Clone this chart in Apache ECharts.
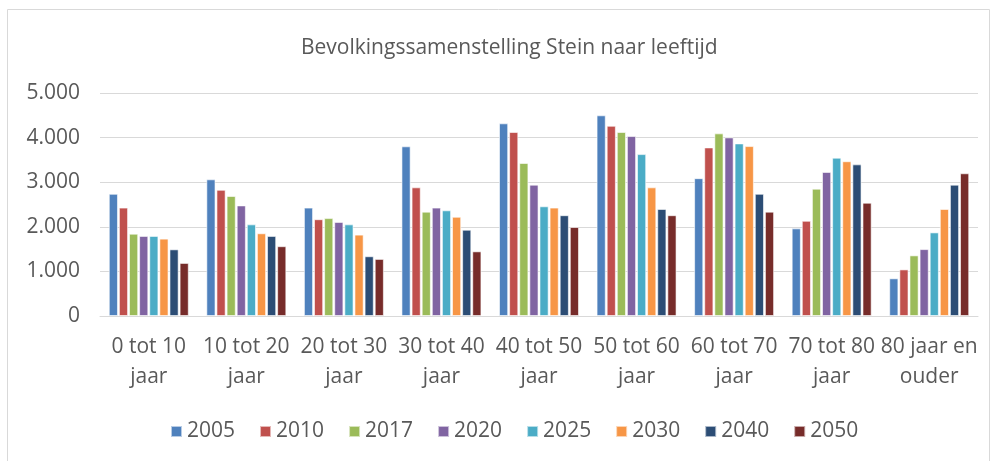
<!DOCTYPE html>
<html><head><meta charset="utf-8">
<script src="https://cdn.jsdelivr.net/npm/echarts@6/dist/echarts.min.js"></script>
<style>html,body{margin:0;padding:0;background:#fff}#c{width:995px;height:461px}</style>
</head><body><div id="c"></div>
<script>
const categories = ['0 tot 10\njaar','10 tot 20\njaar','20 tot 30\njaar','30 tot 40\njaar','40 tot 50\njaar','50 tot 60\njaar','60 tot 70\njaar','70 tot 80\njaar','80 jaar en\nouder'];
const years = ['2005','2010','2017','2020','2025','2030','2040','2050'];
const v2005 = [2740, 3065, 2430, 3805, 4320, 4500, 3090, 1965, 845];
const v2010 = [2430, 2830, 2170, 2885, 4125, 4265, 3780, 2135, 1045];
const v2017 = [1845, 2690, 2195, 2340, 3430, 4125, 4095, 2855, 1360];
const v2020 = [1795, 2480, 2110, 2430, 2945, 4035, 4005, 3230, 1500];
const v2025 = [1795, 2055, 2055, 2370, 2460, 3630, 3870, 3550, 1875];
const v2030 = [1735, 1855, 1825, 2225, 2430, 2885, 3810, 3470, 2400];
const v2040 = [1495, 1795, 1340, 1935, 2260, 2400, 2740, 3400, 2945];
const v2050 = [1190, 1565, 1280, 1450, 1995, 2260, 2340, 2540, 3200];
const seriesValues = [v2005, v2010, v2017, v2020, v2025, v2030, v2040, v2050];
const colors = ['#4F81BD','#C0504D','#9BBB59','#8064A2','#4BACC6','#F79646','#2C4D75','#772C2A'];
const font = '"Open Sans", "Noto Sans", sans-serif';

const chart = echarts.init(document.getElementById('c'));
chart.setOption({
  animation: false,
  color: colors,
  textStyle: {fontFamily: font},
  title: {
    text: 'Bevolkingssamenstelling Stein naar leeftijd',
    left: 296, top: 33,
    textStyle: {fontFamily: font, fontSize: 21, fontWeight: 'normal', color: '#595959'}
  },
  graphic: [{
    type: 'rect', silent: true,
    shape: {x: 7.5, y: 9.5, width: 982, height: 470},
    style: {fill: 'none', stroke: '#d9d9d9', lineWidth: 1}
  }],
  legend: {
    data: years, bottom: 14, left: 165,
    itemWidth: 11, itemHeight: 11, itemGap: 24,
    icon: 'rect',
    textStyle: {fontFamily: font, fontSize: 21, color: '#595959'}
  },
  grid: {left: 100, right: 17, top: 93, bottom: 145, containLabel: false},
  xAxis: {
    type: 'category', data: categories,
    axisLine: {lineStyle: {color: '#d9d9d9'}},
    axisTick: {show: false},
    axisLabel: {fontFamily: font, fontSize: 21, color: '#595959', lineHeight: 30, margin: 16, interval: 0}
  },
  yAxis: {
    type: 'value', min: 0, max: 5000, interval: 1000,
    axisLabel: {fontFamily: font, fontSize: 21, color: '#595959', margin: 20,
      formatter: v => v === 0 ? '0' : (v/1000) + '.000'},
    splitLine: {lineStyle: {color: '#d9d9d9', width: 1}},
    axisLine: {show: false}, axisTick: {show: false}
  },
  series: years.map((y, i) => ({
    name: y, type: 'bar', data: seriesValues[i],
    barGap: '10%', barCategoryGap: '18%',
    itemStyle: {borderColor: 'rgba(255,255,255,0.6)', borderWidth: 1}
  }))
});
</script></body></html>
